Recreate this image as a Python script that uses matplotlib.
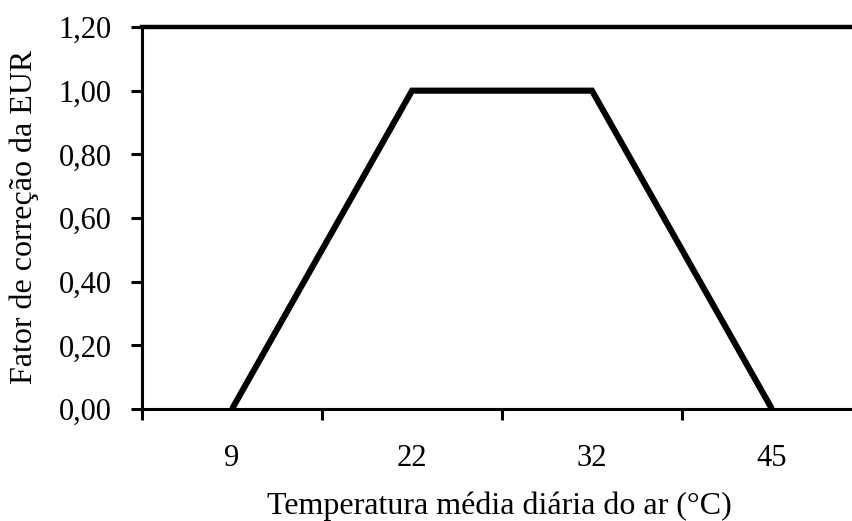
import matplotlib.pyplot as plt
from matplotlib.ticker import FixedLocator, NullFormatter

plt.rcParams['font.family'] = ['Liberation Serif', 'DejaVu Serif']

temperaturas = ['9', '22', '32', '45']
fator = [0.0, 1.0, 1.0, 0.0]
yticks = [0.0, 0.2, 0.4, 0.6, 0.8, 1.0, 1.2]

W, H = 852, 521
fig = plt.figure(figsize=(W / 100, H / 100), dpi=100)
ax = fig.add_axes([142 / W, 1 - 409 / H, 720 / W, 382 / H])

x = list(range(len(temperaturas)))
ax.plot(x, fator, color='black', linewidth=4.4, solid_joinstyle='miter',
        solid_capstyle='butt', clip_on=False, zorder=3)

ax.set_xlim(-0.5, len(temperaturas) - 0.5)
ax.set_ylim(0, 1.2)

# category labels at centers, tick marks between categories
ax.set_xticks(x)
ax.set_xticklabels(temperaturas)
ax.tick_params(axis='x', which='major', length=0, pad=25, labelsize=22)
ax.xaxis.set_minor_locator(FixedLocator([i - 0.5 for i in range(len(temperaturas) + 1)]))
ax.xaxis.set_minor_formatter(NullFormatter())
ax.tick_params(axis='x', which='minor', direction='out', length=8, width=2.2)

ax.set_yticks(yticks)
ax.set_yticklabels([f'{v:.2f}'.replace('.', ',') for v in yticks])
ax.tick_params(axis='y', direction='out', length=8, width=2.2, labelsize=22, pad=14)

for s in ['left', 'bottom']:
    ax.spines[s].set_linewidth(2.2)
ax.spines['top'].set_linewidth(3.2)
ax.spines['right'].set_visible(False)

fig.text(499 / W, 1 - 506 / H, 'Temperatura média diária do ar (°C)',
         ha='center', va='center', fontsize=23)
fig.text(24 / W, 1 - 217 / H, 'Fator de correção da EUR', rotation=90,
         ha='center', va='center', fontsize=23)

fig.savefig('out.png', dpi=100)
